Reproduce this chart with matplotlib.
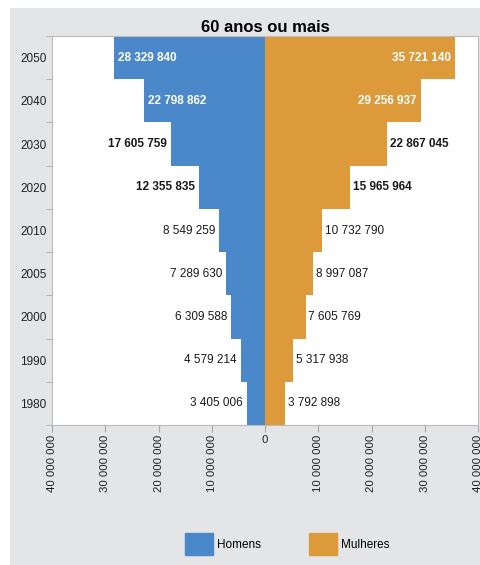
import matplotlib
matplotlib.use("Agg")
import matplotlib.pyplot as plt
from matplotlib.patches import Rectangle
import numpy as np

plt.rcParams["font.family"] = ["Liberation Sans", "DejaVu Sans"]

years = ["1980", "1990", "2000", "2005", "2010", "2020", "2030", "2040", "2050"]
homens = [3405006, 4579214, 6309588, 7289630, 8549259, 12355835, 17605759, 22798862, 28329840]
mulheres = [3792898, 5317938, 7605769, 8997087, 10732790, 15965964, 22867045, 29256937, 35721140]
xticks = [-40e6, -30e6, -20e6, -10e6, 0, 10e6, 20e6, 30e6, 40e6]
xticklabels = ["40 000 000", "30 000 000", "20 000 000", "10 000 000", "0",
               "10 000 000", "20 000 000", "30 000 000", "40 000 000"]
title = "60 anos ou mais"
legend_labels = ["Homens", "Mulheres"]

BLUE = "#4a88c9"
ORANGE = "#dc9a3a"
GRAY = "#e4e5e7"

def fmt(v):
    return f"{v:,}".replace(",", " ")

W, H = 481, 565
fig = plt.figure(figsize=(W / 100, H / 100), dpi=100)
fig.patch.set_facecolor("white")
fig.patches.append(Rectangle((10 / W, 0), 1 - 10 / W, 1 - 8 / H, transform=fig.transFigure,
                             facecolor=GRAY, edgecolor="none", zorder=-10))

ax = fig.add_axes([52 / W, 1 - 425 / H, (478 - 52) / W, (425 - 36) / H])
ax.set_facecolor("white")
y = np.arange(len(years))
ax.barh(y, [-v for v in homens], height=1.0, color=BLUE, edgecolor="none")
ax.barh(y, mulheres, height=1.0, color=ORANGE, edgecolor="none")
ax.set_xlim(-40e6, 40e6)
ax.set_ylim(-0.5, len(years) - 0.5)

FS = 8.5
for i, (h, m) in enumerate(zip(homens, mulheres)):
    yr = years[i]
    if yr in ("2050", "2040"):
        ax.annotate(fmt(h), (-h, i), xytext=(3, 0), textcoords="offset points",
                    ha="left", va="center", color="white", fontsize=FS, fontweight="bold")
        ax.annotate(fmt(m), (m, i), xytext=(-3, 0), textcoords="offset points",
                    ha="right", va="center", color="white", fontsize=FS, fontweight="bold")
    else:
        wt = "bold" if yr in ("2030", "2020") else "normal"
        ax.annotate(fmt(h), (-h, i), xytext=(-3, 0), textcoords="offset points",
                    ha="right", va="center", color="#1a1a1a", fontsize=FS, fontweight=wt)
        ax.annotate(fmt(m), (m, i), xytext=(2, 0), textcoords="offset points",
                    ha="left", va="center", color="#1a1a1a", fontsize=FS, fontweight=wt)

ax.set_yticks(y)
ax.set_yticklabels(years, fontsize=8.5, color="#222222")
ax.set_yticks(np.arange(-0.5, len(years), 1.0), minor=True)
ax.tick_params(axis="y", which="major", length=0, pad=4)
ax.tick_params(axis="y", which="minor", length=4, color="#aaaaaa")

ax.set_xticks(xticks)
ax.set_xticklabels(xticklabels, fontsize=8.2, color="#222222", rotation=90)
for lab in ax.get_xticklabels():
    if lab.get_text() == "0":
        lab.set_rotation(0)
ax.tick_params(axis="x", length=5, color="#aaaaaa", pad=2)

for s in ax.spines.values():
    s.set_color("#bbbbbb")
    s.set_linewidth(0.8)

ax.set_title(title, fontsize=12, fontweight="bold", pad=3)

leg = fig.legend(handles=[Rectangle((0, 0), 1, 1, color=BLUE), Rectangle((0, 0), 1, 1, color=ORANGE)],
                 labels=legend_labels, loc="center", bbox_to_anchor=(287 / W, 1 - 544 / H),
                 ncol=2, frameon=False, fontsize=8.5, handlelength=2.4, handleheight=2.4,
                 columnspacing=4.1, handletextpad=0.3)

fig.savefig("out.png", dpi=100, facecolor=fig.get_facecolor())
